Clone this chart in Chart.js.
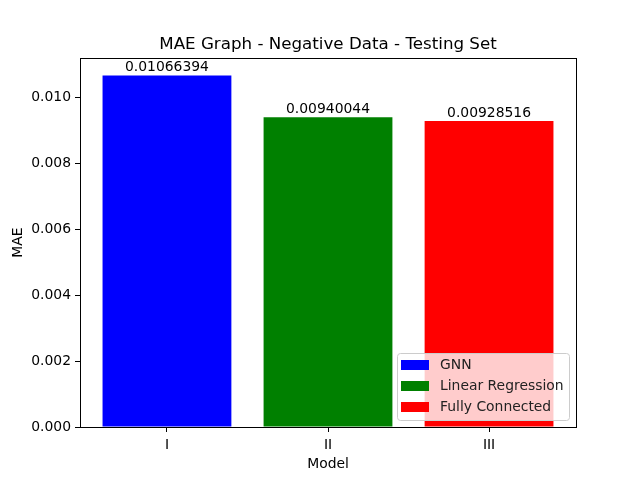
<!DOCTYPE html>
<html>
<head>
<meta charset="utf-8">
<script src="https://cdn.jsdelivr.net/npm/chart.js@4"></script>
<style>
  html, body { margin: 0; padding: 0; background: #fff; }
  #wrap { width: 640px; height: 480px; }
</style>
</head>
<body>
<div id="wrap"><canvas id="maeChart" width="640" height="480"></canvas></div>
<script>
// chart values
const models = ["I", "II", "III"];
const seriesNames = ["GNN", "Linear Regression", "Fully Connected"];
const maeValues = [0.01066394, 0.00940044, 0.00928516];
const barColors = ["#0000ff", "#008000", "#ff0000"];
const yTicks = [0.000, 0.002, 0.004, 0.006, 0.008, 0.010];

const FONT = "'DejaVu Sans', sans-serif";

// one dataset per model so the legend gets one entry each
const datasets = seriesNames.map(function (name, i) {
  return {
    label: name,
    data: [{ x: i, y: maeValues[i] }],
    backgroundColor: barColors[i],
    borderWidth: 0,
    categoryPercentage: 1.0,
    barPercentage: 0.8,
    grouped: false
  };
});

// frame, title, value labels and the matplotlib-like legend
const decorPlugin = {
  id: 'decor',
  afterDatasetsDraw(chart) {
    const c = chart.ctx;
    const a = chart.chartArea;
    c.save();
    // value labels on top of bars
    c.fillStyle = '#000';
    c.font = '13.9px ' + FONT;
    c.textAlign = 'center';
    c.textBaseline = 'bottom';
    chart.data.datasets.forEach(function (ds, i) {
      const el = chart.getDatasetMeta(i).data[0];
      c.fillText(maeValues[i].toFixed(8), el.x, el.y - 1);
    });
    // frame
    c.strokeStyle = '#000';
    c.lineWidth = 1;
    c.strokeRect(Math.round(a.left) + 0.5, Math.round(a.top) + 0.5,
      Math.round(a.right - a.left), Math.round(a.bottom - a.top));
    // title
    c.font = '16.7px ' + FONT;
    c.textBaseline = 'alphabetic';
    c.fillText('MAE Graph - Negative Data - Testing Set', (a.left + a.right) / 2, 49);
    // legend
    const w = 172, h = 67;
    const lx = a.right - 7 - w, ly = a.bottom - 7 - h;
    c.fillStyle = 'rgba(255,255,255,0.8)';
    c.strokeStyle = '#cccccc';
    c.beginPath();
    c.roundRect(lx + 0.5, ly + 0.5, w, h, 3);
    c.fill();
    c.stroke();
    c.font = '13.9px ' + FONT;
    c.textAlign = 'left';
    c.textBaseline = 'middle';
    chart.data.datasets.forEach(function (ds, i) {
      const ry = ly + 12 + i * 21;
      c.fillStyle = ds.backgroundColor;
      c.fillRect(lx + 4, ry - 5, 28, 10);
      c.fillStyle = '#222';
      c.fillText(ds.label, lx + 43, ry);
    });
    c.restore();
  }
};

const ctx = document.getElementById('maeChart').getContext('2d');
const maeChart = new Chart(ctx, {
  type: 'bar',
  data: { datasets: datasets },
  options: {
    responsive: false,
    animation: false,
    devicePixelRatio: 1,
    layout: { padding: { left: 0, top: 58, right: 64, bottom: 0 } },
    plugins: {
      legend: { display: false },
      title: { display: false },
      tooltip: { enabled: false }
    },
    scales: {
      x: {
        type: 'linear',
        min: -0.54,
        max: 2.54,
        offset: false,
        afterBuildTicks: function (scale) {
          scale.ticks = models.map(function (m, i) { return { value: i }; });
        },
        afterFit: function (scale) { scale.height = 53; },
        ticks: {
          color: '#000',
          font: { family: FONT, size: 13.9 },
          padding: 5,
          callback: function (v) { return models[v]; }
        },
        grid: { offset: false, drawOnChartArea: false, drawTicks: true, tickLength: 5, color: '#000' },
        border: { display: false },
        title: { display: true, text: 'Model', color: '#000', font: { family: FONT, size: 13.9 }, padding: { top: 0, bottom: 7 } }
      },
      y: {
        min: 0,
        max: 0.0111972,
        afterBuildTicks: function (scale) {
          scale.ticks = yTicks.map(function (v) { return { value: v }; });
        },
        afterFit: function (scale) { scale.width = 80; },
        ticks: {
          color: '#000',
          font: { family: FONT, size: 13.9 },
          padding: 4,
          callback: function (v) { return v.toFixed(3); }
        },
        grid: { drawOnChartArea: false, drawTicks: true, tickLength: 5, color: '#000' },
        border: { display: false },
        title: { display: true, text: 'MAE', color: '#000', font: { family: FONT, size: 13.9 }, padding: { top: 10, bottom: 4 } }
      }
    }
  },
  plugins: [decorPlugin]
});
</script>
</body>
</html>
